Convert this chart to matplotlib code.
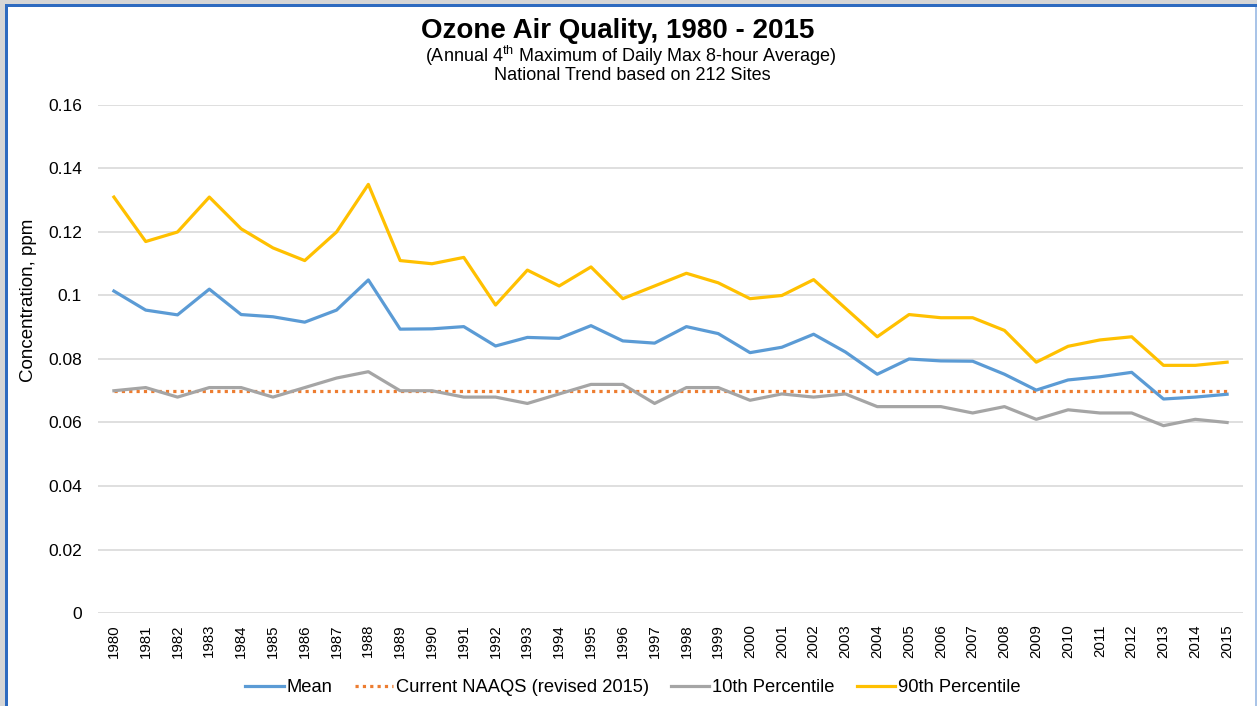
import matplotlib.pyplot as plt
from matplotlib.patches import Rectangle

# data
years = list(range(1980, 2016))
mean_vals = [0.1014, 0.0954, 0.0939, 0.1020, 0.0940, 0.0933, 0.0916, 0.0954, 0.1049,
             0.0894, 0.0895, 0.0902, 0.0841, 0.0868, 0.0865, 0.0905, 0.0857, 0.0850,
             0.0902, 0.0880, 0.0820, 0.0837, 0.0878, 0.0822, 0.0752, 0.0800, 0.0794,
             0.0793, 0.0752, 0.0702, 0.0734, 0.0744, 0.0758, 0.0674, 0.0680, 0.0689]
naaqs_vals = [0.070] * 36
p10_vals = [0.070, 0.071, 0.068, 0.071, 0.071, 0.068, 0.071, 0.074, 0.076,
            0.070, 0.070, 0.068, 0.068, 0.066, 0.069, 0.072, 0.072, 0.066,
            0.071, 0.071, 0.067, 0.069, 0.068, 0.069, 0.065, 0.065, 0.065,
            0.063, 0.065, 0.061, 0.064, 0.063, 0.063, 0.059, 0.061, 0.060]
p90_vals = [0.131, 0.117, 0.120, 0.131, 0.121, 0.115, 0.111, 0.120, 0.135,
            0.111, 0.110, 0.112, 0.097, 0.108, 0.103, 0.109, 0.099, 0.103,
            0.107, 0.104, 0.099, 0.100, 0.105, 0.096, 0.087, 0.094, 0.093,
            0.093, 0.089, 0.079, 0.084, 0.086, 0.087, 0.078, 0.078, 0.079]
y_ticks = [0, 0.02, 0.04, 0.06, 0.08, 0.1, 0.12, 0.14, 0.16]
y_tick_labels = ["0", "0.02", "0.04", "0.06", "0.08", "0.1", "0.12", "0.14", "0.16"]

plt.rcParams["font.family"] = ["Liberation Sans", "DejaVu Sans"]

W, H = 1257, 706
fig = plt.figure(figsize=(W / 100, H / 100), dpi=100)
fig.patch.set_facecolor("#d6d6d6")

# white chart area with blue frame (top and left), light edge on right
fig.add_artist(Rectangle((5 / W, 0), 1 - 5 / W, 1 - 4 / H, transform=fig.transFigure,
                         facecolor="white", edgecolor="none", zorder=0))
fig.add_artist(Rectangle((5 / W, 0), 3 / W, 1 - 4 / H, transform=fig.transFigure,
                         facecolor="#2e6bc0", edgecolor="none", zorder=0.5))
fig.add_artist(Rectangle((5 / W, 1 - 7 / H), 1 - 5 / W, 3 / H, transform=fig.transFigure,
                         facecolor="#2e6bc0", edgecolor="none", zorder=0.5))
fig.add_artist(Rectangle((1 - 2 / W, 0), 2 / W, 1 - 7 / H, transform=fig.transFigure,
                         facecolor="#a9c4e8", edgecolor="none", zorder=0.5))

ax = fig.add_axes([98 / W, 1 - 613 / H, (1243 - 98) / W, (613 - 105) / H])
ax.set_facecolor("none")

x = list(range(len(years)))
ax.plot(x, mean_vals, color="#5b9bd5", lw=2.3, label="Mean", zorder=3)
ax.plot(x, naaqs_vals, color="#ed7d31", lw=2.3, linestyle=(0, (1, 1.3)),
        label="Current NAAQS (revised 2015)", zorder=2)
ax.plot(x, p10_vals, color="#a5a5a5", lw=2.3, label="10th Percentile", zorder=3)
ax.plot(x, p90_vals, color="#ffc000", lw=2.3, label="90th Percentile", zorder=3)

ax.set_xlim(-0.5, len(years) - 0.5)
ax.set_ylim(0, 0.16)
ax.set_yticks(y_ticks)
ax.set_yticklabels(y_tick_labels, fontsize=12.5)
ax.set_xticks(x)
ax.set_xticklabels([str(y) for y in years], rotation=90, fontsize=10.8)
ax.tick_params(axis="both", length=0, colors="black")
ax.tick_params(axis="y", pad=11.5)
ax.tick_params(axis="x", pad=8)
ax.grid(axis="y", color="#d9d9d9", lw=1.2)
ax.set_axisbelow(True)
for s in ax.spines.values():
    s.set_visible(False)

# titles
fig.text(618 / W, 1 - 31 / H, "Ozone Air Quality, 1980 - 2015", ha="center", va="center",
         fontsize=20, fontweight="bold")
fig.text(631 / W, 1 - 56 / H, "(Annual 4$^{\\mathregular{th}}$ Maximum of Daily Max 8-hour Average)",
         ha="center", va="center", fontsize=13)
fig.text(632 / W, 1 - 76 / H, "National Trend based on 212 Sites", ha="center", va="center",
         fontsize=13)
fig.text(29 / W, 1 - 300 / H, "Concentration, ppm", rotation=90, ha="center", va="center",
         fontsize=13.5)

fig.legend(loc="center", bbox_to_anchor=(633 / W, 1 - 688 / H), ncol=4, frameon=False,
           fontsize=13.2, handlelength=2.1, handletextpad=0.15, columnspacing=1.2)

fig.savefig("out.png", dpi=100, facecolor=fig.get_facecolor())
